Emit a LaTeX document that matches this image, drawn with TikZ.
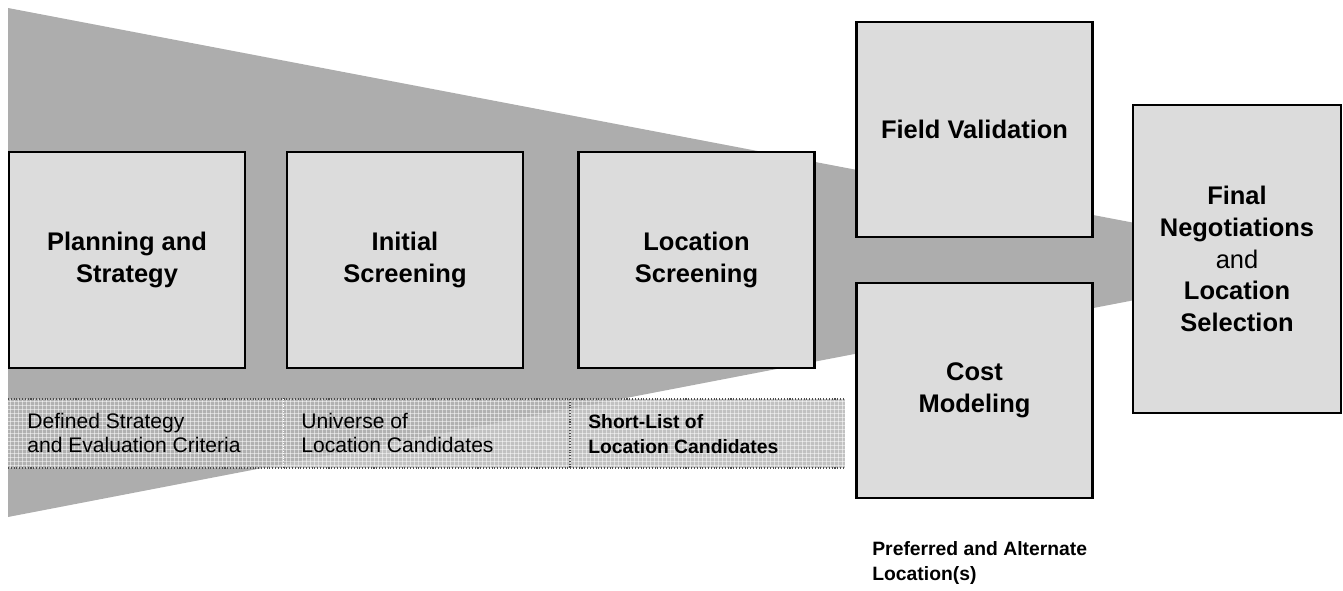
\documentclass[tikz,border=0pt]{standalone}
\usepackage{fontspec}
\setmainfont{Liberation Sans}
\usepackage{tikz}
\usetikzlibrary{positioning}
\definecolor{funnelgray}{HTML}{ADADAD}
\definecolor{boxgray}{HTML}{DCDCDC}
\tikzset{
  stagebox/.style={draw=black,line width=1.2pt,fill=boxgray,minimum width=4.72cm,minimum height=4.32cm,
    align=center,font=\bfseries\fontsize{14.5}{18}\selectfont,inner sep=0pt},
  outlabel/.style={anchor=west,align=left,inner sep=0pt,font=\fontsize{12}{14}\selectfont},
  boldlabel/.style={outlabel,font=\bfseries\fontsize{11}{14}\selectfont}
}
\begin{document}
\begin{tikzpicture}[x=0.02cm,y=-0.02cm]
\useasboundingbox (0,0) rectangle (1343,591);
% funnel
\fill[funnelgray] (8,8) -- (1135,223) -- (1135,300) -- (8,517) -- cycle;
% textured band
\fill[black!30,fill opacity=0.8] (8,399) rectangle (845,468);
\foreach \x in {10,14,...,842}{ \draw[white,opacity=0.5,line width=0.35pt] (\x,399) -- (\x,468); }
\foreach \y in {401,405,...,466}{ \draw[white,opacity=0.5,line width=0.35pt] (8,\y) -- (845,\y); }
\draw[black!70,densely dotted,line width=0.6pt] (8,399) -- (845,399) (8,468) -- (845,468);
\draw[black!70,densely dotted,line width=0.6pt] (570,399) -- (570,468);
\draw[white,densely dotted,line width=0.4pt] (283,399) -- (283,468);
% stages
\node[stagebox] (plan) at (127,260) {Planning and\\Strategy};
\node[stagebox] (init) at (405,260) {Initial\\Screening};
\node[stagebox] (loc) at (696.5,260) {Location\\Screening};
\node[stagebox,minimum height=4.3cm] (field) at (974.5,129.5) {Field Validation};
\node[stagebox,minimum height=4.3cm] (cost) at (974.5,390.5) {Cost\\Modeling};
\node[stagebox,minimum width=4.16cm,minimum height=6.16cm] (final) at (1237,259)
  {Final\\Negotiations\\\mdseries and\\Location\\Selection};
% outputs
\node[outlabel] (defined) at (27,433) {Defined Strategy\\and Evaluation Criteria};
\node[outlabel] (universe) at (301,433) {Universe of\\Location Candidates};
\node[boldlabel] (shortlist) at (588,434) {Short-List of\\Location Candidates};
\node[boldlabel] (preferred) at (872,563) {Preferred and Alternate\\Location(s)};
\end{tikzpicture}
\end{document}
